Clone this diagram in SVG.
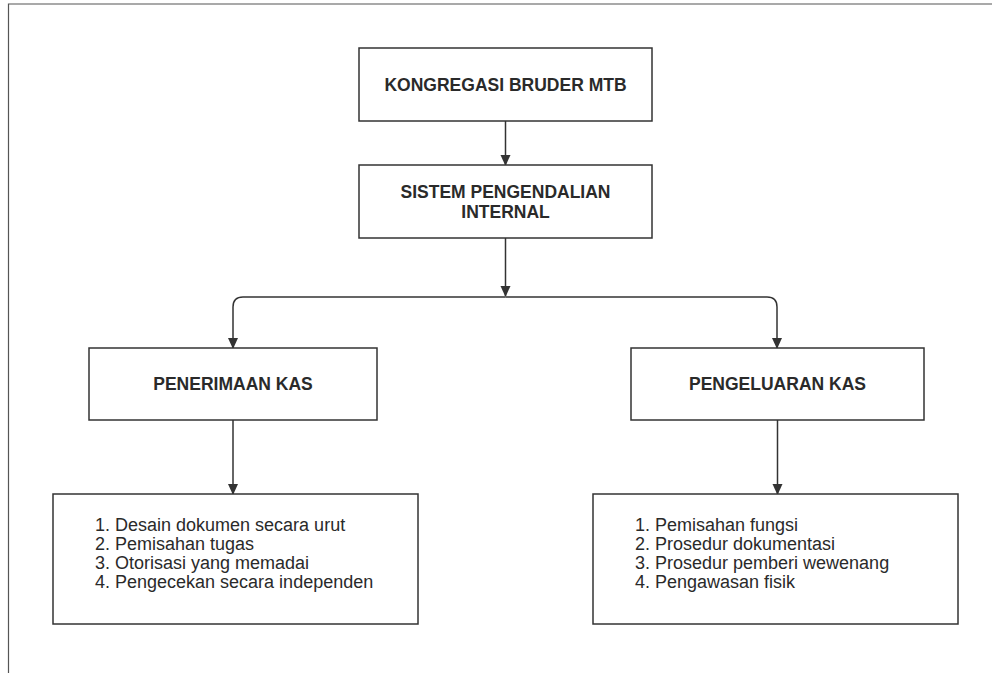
<svg xmlns="http://www.w3.org/2000/svg" width="992" height="673" viewBox="0 0 992 673">
<style>
.box{fill:#fff;stroke:#333;stroke-width:1.5}
.t{font-family:"Liberation Sans",Arial,sans-serif;fill:#2a2a2a;font-size:18px}
.h{font-weight:bold;text-anchor:middle;font-size:17.5px}
.c{fill:none;stroke:#333;stroke-width:1.5}
</style>
<defs>
<marker id="a" markerWidth="11" markerHeight="11" refX="10" refY="5.5" orient="auto" markerUnits="userSpaceOnUse" viewBox="0 0 11 11">
<path d="M0,0.5 L11,5.5 L0,10.5 Z" fill="#333"/>
</marker>
</defs>
<rect width="992" height="673" fill="#fff"/>
<path d="M8.5,673 V4 H992" fill="none" stroke="#555" stroke-width="1.2"/>
<g id="connectors">
<path class="c" d="M505.5,121 V165" marker-end="url(#a)"/>
<path class="c" d="M505.5,238 V296" marker-end="url(#a)"/>
<path class="c" d="M505.5,297 H243 Q233,297 233,307 V348" marker-end="url(#a)"/>
<path class="c" d="M505.5,297 H767 Q777,297 777,307 V348" marker-end="url(#a)"/>
<path class="c" d="M233,420 V494" marker-end="url(#a)"/>
<path class="c" d="M777.5,420 V494" marker-end="url(#a)"/>
</g>
<g id="n1"><rect class="box" x="359" y="48" width="293" height="73"/><text class="t h" x="505.5" y="91">KONGREGASI BRUDER MTB</text></g>
<g id="n2"><rect class="box" x="359" y="165" width="293" height="73"/><text class="t h" x="505.5" y="198">SISTEM PENGENDALIAN</text><text class="t h" x="505.5" y="218">INTERNAL</text></g>
<g id="n3"><rect class="box" x="89" y="348" width="288" height="72"/><text class="t h" x="233" y="390">PENERIMAAN KAS</text></g>
<g id="n4"><rect class="box" x="631" y="348" width="293" height="72"/><text class="t h" x="777.5" y="390">PENGELUARAN KAS</text></g>
<g id="n5"><rect class="box" x="53" y="494" width="365" height="130"/>
<text class="t" x="95" y="531">1. Desain dokumen secara urut</text>
<text class="t" x="95" y="550">2. Pemisahan tugas</text>
<text class="t" x="95" y="569">3. Otorisasi yang memadai</text>
<text class="t" x="95" y="588">4. Pengecekan secara independen</text></g>
<g id="n6"><rect class="box" x="593" y="494" width="365" height="130"/>
<text class="t" x="635" y="531">1. Pemisahan fungsi</text>
<text class="t" x="635" y="550">2. Prosedur dokumentasi</text>
<text class="t" x="635" y="569">3. Prosedur pemberi wewenang</text>
<text class="t" x="635" y="588">4. Pengawasan fisik</text></g>
</svg>
